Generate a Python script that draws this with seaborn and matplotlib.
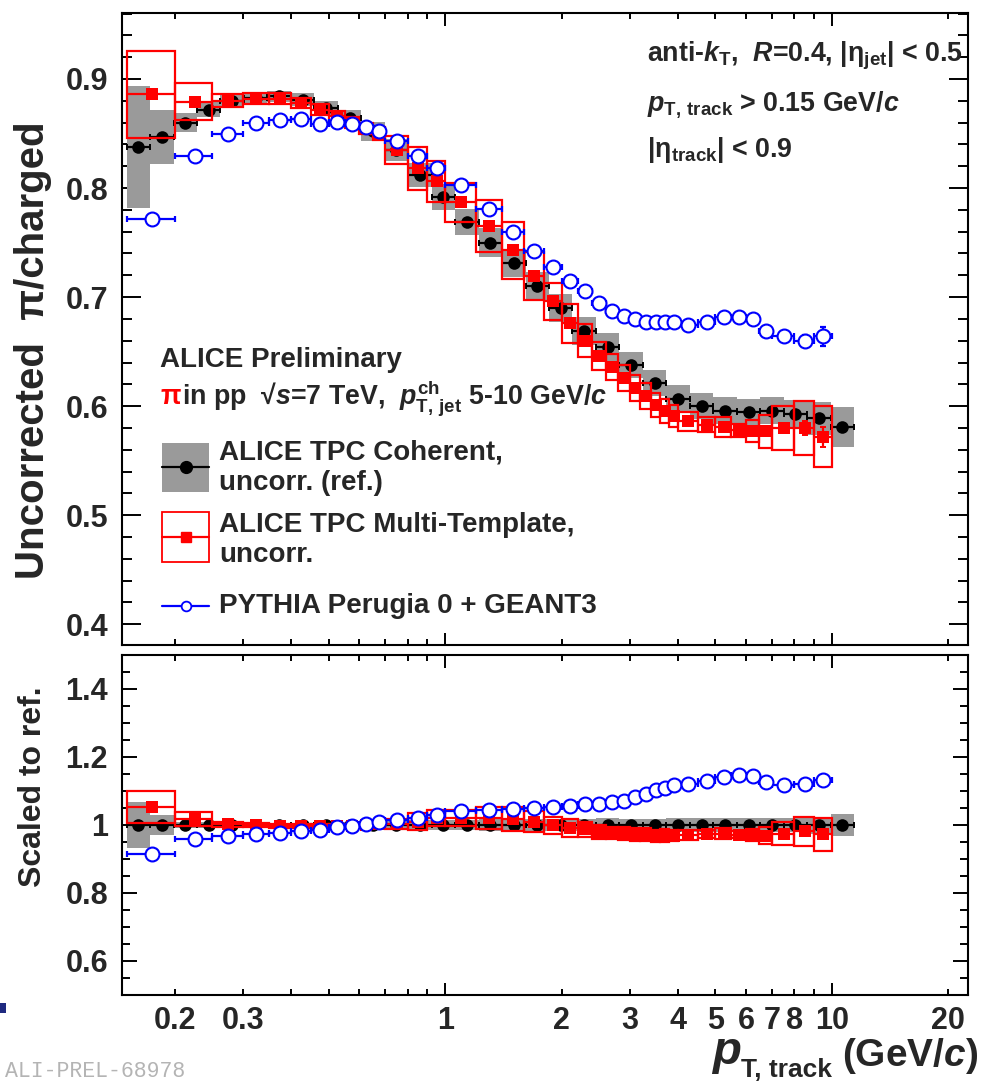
import numpy as np
import matplotlib
matplotlib.use("Agg")
import matplotlib.pyplot as plt
import seaborn as sns
from matplotlib.patches import Rectangle
from matplotlib.lines import Line2D
from matplotlib.ticker import FixedLocator, FuncFormatter, MultipleLocator

# ---------------- data ----------------
# ALICE TPC Coherent (reference), log-spaced bins
coh_edges = [0.150, 0.1725, 0.1984, 0.2281, 0.2624, 0.3017, 0.3470, 0.3990, 0.4589,
             0.5277, 0.6068, 0.6979, 0.8025, 0.9229, 1.0614, 1.2206, 1.4037, 1.6142,
             1.8563, 2.1348, 2.4550, 2.8232, 3.2467, 3.7337, 4.2938, 4.9378, 5.6785,
             6.5303, 7.5098, 8.6363, 9.9318, 11.4215]
coh_val = [0.838, 0.847, 0.860, 0.872, 0.880, 0.883, 0.884, 0.881, 0.873, 0.864, 0.852,
           0.835, 0.812, 0.792, 0.769, 0.750, 0.731, 0.710, 0.690, 0.669, 0.654, 0.638,
           0.621, 0.607, 0.600, 0.596, 0.595, 0.596, 0.593, 0.589, 0.581]
coh_sys = [0.056, 0.025, 0.009, 0.007, 0.005, 0.005, 0.005, 0.006, 0.007, 0.008, 0.009,
           0.010, 0.011, 0.012, 0.012, 0.013, 0.013, 0.013, 0.013, 0.013, 0.013, 0.012,
           0.012, 0.012, 0.012, 0.012, 0.012, 0.012, 0.013, 0.015, 0.018]
coh_stat = [0.002, 0.002, 0.001, 0.001, 0.001, 0.001, 0.001, 0.001, 0.001, 0.001, 0.001,
            0.001, 0.001, 0.001, 0.001, 0.001, 0.001, 0.001, 0.001, 0.001, 0.001, 0.001,
            0.001, 0.001, 0.001, 0.001, 0.001, 0.002, 0.002, 0.003, 0.003]
coh_ratio = [1.0] * 31
coh_ratio_sys = [0.067, 0.030, 0.010, 0.008, 0.006, 0.006, 0.006, 0.007, 0.008, 0.009,
                 0.011, 0.012, 0.014, 0.015, 0.016, 0.017, 0.018, 0.018, 0.019, 0.019,
                 0.020, 0.019, 0.019, 0.020, 0.020, 0.020, 0.020, 0.020, 0.022, 0.025, 0.031]

# ALICE TPC Multi-Template and PYTHIA share the same bins
mt_edges = [0.15, 0.2, 0.25, 0.3, 0.35, 0.4, 0.45, 0.5, 0.55, 0.6, 0.65, 0.7, 0.8, 0.9,
            1.0, 1.2, 1.4, 1.6, 1.8, 2.0, 2.2, 2.4, 2.6, 2.8, 3.0, 3.2, 3.4, 3.6, 3.8,
            4.0, 4.5, 5.0, 5.5, 6.0, 6.5, 7.0, 8.0, 9.0, 10.0]
mt_val = [0.886, 0.879, 0.880, 0.882, 0.882, 0.878, 0.872, 0.866, 0.860, 0.855, 0.850,
          0.835, 0.818, 0.806, 0.787, 0.765, 0.743, 0.719, 0.696, 0.676, 0.660, 0.646,
          0.636, 0.626, 0.617, 0.609, 0.601, 0.596, 0.591, 0.586, 0.583, 0.581, 0.578,
          0.577, 0.577, 0.580, 0.580, 0.572]
mt_sys = [0.040, 0.017, 0.006, 0.005, 0.005, 0.005, 0.005, 0.005, 0.005, 0.005, 0.006,
          0.013, 0.020, 0.019, 0.018, 0.024, 0.026, 0.022, 0.017, 0.018, 0.015, 0.013,
          0.012, 0.012, 0.012, 0.012, 0.011, 0.011, 0.010, 0.009, 0.007, 0.009, 0.006,
          0.010, 0.015, 0.020, 0.025, 0.028]
mt_stat = [0.002, 0.001, 0.001, 0.001, 0.001, 0.001, 0.001, 0.001, 0.001, 0.001, 0.001,
           0.001, 0.001, 0.001, 0.001, 0.001, 0.001, 0.001, 0.001, 0.001, 0.001, 0.001,
           0.001, 0.001, 0.001, 0.001, 0.001, 0.001, 0.001, 0.002, 0.002, 0.002, 0.003,
           0.003, 0.003, 0.004, 0.006, 0.009]
mt_ratio = [1.052, 1.018, 1.002, 0.999, 0.998, 0.997, 0.997, 0.997, 0.997, 1.000, 1.002,
            1.003, 1.010, 1.020, 1.020, 1.020, 1.018, 1.010, 0.999, 0.991, 0.987, 0.979,
            0.977, 0.974, 0.972, 0.971, 0.968, 0.969, 0.969, 0.970, 0.973, 0.975, 0.971,
            0.970, 0.968, 0.975, 0.981, 0.973]
mt_ratio_sys = [0.047, 0.020, 0.007, 0.006, 0.006, 0.006, 0.006, 0.006, 0.006, 0.006,
                0.007, 0.016, 0.025, 0.024, 0.023, 0.032, 0.036, 0.031, 0.024, 0.026,
                0.022, 0.020, 0.018, 0.019, 0.019, 0.019, 0.018, 0.018, 0.016, 0.015,
                0.012, 0.015, 0.010, 0.017, 0.025, 0.034, 0.042, 0.048]
mt_ratio_stat = [0.002, 0.001, 0.001, 0.001, 0.001, 0.001, 0.001, 0.001, 0.001, 0.001,
                 0.001, 0.001, 0.001, 0.001, 0.001, 0.001, 0.001, 0.001, 0.001, 0.001,
                 0.001, 0.001, 0.001, 0.001, 0.001, 0.001, 0.001, 0.001, 0.001, 0.003,
                 0.003, 0.003, 0.004, 0.004, 0.005, 0.007, 0.010, 0.015]

py_val = [0.772, 0.829, 0.850, 0.860, 0.862, 0.863, 0.859, 0.861, 0.859, 0.856, 0.852,
          0.843, 0.829, 0.818, 0.803, 0.781, 0.760, 0.742, 0.728, 0.715, 0.706, 0.695,
          0.687, 0.683, 0.680, 0.677, 0.677, 0.677, 0.677, 0.674, 0.677, 0.682, 0.682,
          0.680, 0.669, 0.664, 0.660, 0.664]
py_stat = [0.001, 0.001, 0.001, 0.001, 0.001, 0.001, 0.001, 0.001, 0.001, 0.001, 0.001,
           0.001, 0.001, 0.001, 0.001, 0.001, 0.001, 0.001, 0.001, 0.001, 0.001, 0.001,
           0.001, 0.001, 0.001, 0.001, 0.001, 0.001, 0.001, 0.002, 0.002, 0.002, 0.003,
           0.003, 0.004, 0.004, 0.005, 0.009]
py_ratio = [0.915, 0.958, 0.967, 0.974, 0.977, 0.982, 0.986, 0.993, 0.998, 1.003, 1.008,
            1.014, 1.022, 1.030, 1.040, 1.044, 1.047, 1.050, 1.053, 1.056, 1.062, 1.062,
            1.067, 1.071, 1.083, 1.090, 1.103, 1.110, 1.117, 1.120, 1.130, 1.140, 1.146,
            1.145, 1.127, 1.118, 1.120, 1.132]
py_ratio_stat = [0.001, 0.001, 0.001, 0.001, 0.001, 0.001, 0.001, 0.001, 0.001, 0.001,
                 0.001, 0.001, 0.001, 0.001, 0.001, 0.001, 0.001, 0.001, 0.001, 0.001,
                 0.001, 0.001, 0.001, 0.001, 0.001, 0.001, 0.001, 0.001, 0.001, 0.002,
                 0.002, 0.003, 0.004, 0.004, 0.005, 0.005, 0.007, 0.008]

xtick_values = [0.2, 0.3, 1, 2, 3, 4, 5, 6, 7, 8, 10, 20]
xtick_labels = ["0.2", "0.3", "1", "2", "3", "4", "5", "6", "7", "8", "10", "20"]
xminor_values = [0.2, 0.3, 0.4, 0.5, 0.6, 0.7, 0.8, 0.9, 2, 3, 4, 5, 6, 7, 8, 9, 20]
top_ytick_labels = ["0.4", "0.5", "0.6", "0.7", "0.8", "0.9"]
bot_ytick_labels = ["0.6", "0.8", "1", "1.2", "1.4"]

# ---------------- style ----------------
sns.set_theme(style="ticks")
plt.rcParams["font.family"] = ["Liberation Sans", "DejaVu Sans"]
plt.rcParams["font.weight"] = "bold"
plt.rcParams["mathtext.fontset"] = "custom"
plt.rcParams["mathtext.rm"] = "Liberation Sans:bold"
plt.rcParams["mathtext.bf"] = "Liberation Sans:bold"
plt.rcParams["mathtext.it"] = "Liberation Sans:italic:bold"
plt.rcParams["mathtext.sf"] = "Liberation Sans:bold"

GRAY = "#9a9a9a"
RED = "#ff0000"
BLUE = "#0000ff"
FS = 20
FSA = 19.3

W, H = 986, 1081
fig = plt.figure(figsize=(W / 100, H / 100), dpi=100)
fig.patch.set_facecolor("white")


def fbox(l, t, r, b):
    return [l / W, 1 - b / H, (r - l) / W, (b - t) / H]


def fx(px):
    return px / W


def fy(py):
    return 1 - py / H


ax1 = fig.add_axes(fbox(122, 13, 968, 645))
ax2 = fig.add_axes(fbox(122, 655, 968, 995))

ce = np.array(coh_edges)
c_lo, c_hi = ce[:-1], ce[1:]
c_x = np.sqrt(c_lo * c_hi)
me = np.array(mt_edges)
m_lo, m_hi = me[:-1], me[1:]
m_x = 0.5 * (m_lo + m_hi)


def draw_panel(ax, cy, cs, cst, my, ms, mst, py, pst):
    cy, cs, my, ms, py = map(np.asarray, (cy, cs, my, ms, py))
    ax.set_xscale("log")
    # gray systematic boxes (reference)
    ax.bar(c_lo, 2 * cs, width=c_hi - c_lo, bottom=cy - cs, align="edge",
           color=GRAY, linewidth=0, zorder=1)
    ax.errorbar(c_x, cy, xerr=[c_x - c_lo, c_hi - c_x], yerr=cst, fmt="none",
                ecolor="black", elinewidth=1.6, capsize=2.2, capthick=1.4, zorder=2)
    sns.scatterplot(x=c_x, y=cy, ax=ax, color="black", marker="o", s=82,
                    linewidth=0, legend=False, zorder=3)
    # red open systematic boxes
    ax.bar(m_lo, 2 * ms, width=m_hi - m_lo, bottom=my - ms, align="edge",
           facecolor="none", edgecolor=RED, linewidth=1.6, zorder=4)
    ax.errorbar(m_x, my, xerr=[m_x - m_lo, m_hi - m_x], yerr=mst, fmt="none",
                ecolor=RED, elinewidth=1.6, capsize=2.2, capthick=1.4, zorder=5)
    sns.scatterplot(x=m_x, y=my, ax=ax, color=RED, marker="s", s=70,
                    linewidth=0, legend=False, zorder=6)
    # PYTHIA
    ax.errorbar(m_x, py, xerr=[m_x - m_lo, m_hi - m_x], yerr=pst, fmt="none",
                ecolor=BLUE, elinewidth=1.6, capsize=2.2, capthick=1.6, zorder=7)
    sns.scatterplot(x=m_x, y=py, ax=ax, color="white", edgecolor=BLUE, marker="o",
                    s=100, linewidth=1.5, legend=False, zorder=8)


draw_panel(ax1, coh_val, coh_sys, coh_stat, mt_val, mt_sys, mt_stat, py_val, py_stat)
draw_panel(ax2, coh_ratio, coh_ratio_sys, coh_stat, mt_ratio, mt_ratio_sys,
           mt_ratio_stat, py_ratio, py_ratio_stat)

ax1.set_ylim(0.381, 0.9605)
ax2.set_ylim(0.5, 1.5)

label_map = dict(zip(xtick_values, xtick_labels))


def xfmt(v, pos):
    for k, lab in label_map.items():
        if abs(v - k) < 1e-6 * max(1, k):
            return lab
    return ""


for ax in (ax1, ax2):
    ax.set_xlim(0.146, 22.5)
    ax.xaxis.set_major_locator(FixedLocator([1, 10]))
    ax.xaxis.set_minor_locator(FixedLocator(xminor_values))
    ax.tick_params(which="both", direction="in", top=True, right=True,
                   width=1.4, color="black", labelsize=22)
    ax.tick_params(axis="x", which="major", length=9)
    ax.tick_params(axis="x", which="minor", length=4.5)
    for s in ax.spines.values():
        s.set_linewidth(1.5)
        s.set_color("black")
    ax.set_xlabel("")
    ax.set_ylabel("")
    ax.grid(False)

ax1.xaxis.set_major_formatter(FuncFormatter(lambda v, p: ""))
ax1.xaxis.set_minor_formatter(FuncFormatter(lambda v, p: ""))
ax2.xaxis.set_major_formatter(FuncFormatter(xfmt))
ax2.xaxis.set_minor_formatter(FuncFormatter(xfmt))
ax2.tick_params(axis="x", which="both", pad=8)

ax1.yaxis.set_major_locator(FixedLocator([0.4, 0.5, 0.6, 0.7, 0.8, 0.9]))
ax1.yaxis.set_minor_locator(MultipleLocator(0.02))
ax1.set_yticklabels(top_ytick_labels)
ax1.tick_params(axis="y", which="major", length=13.5, pad=10)
ax1.tick_params(axis="y", which="minor", length=7)

ax2.yaxis.set_major_locator(FixedLocator([0.6, 0.8, 1.0, 1.2, 1.4]))
ax2.yaxis.set_minor_locator(MultipleLocator(0.05))
ax2.set_yticklabels(bot_ytick_labels)
ax2.tick_params(axis="y", which="major", length=11, pad=10)
ax2.tick_params(axis="y", which="minor", length=5.5)

# ---------------- axis titles ----------------
fig.text(fx(33), fy(350), "Uncorrected  π/charged", rotation=90, ha="center",
         va="center", fontsize=29, fontweight="bold")
fig.text(fx(33), fy(787), "Scaled to ref.", rotation=90, ha="center",
         va="center", fontsize=23, fontweight="bold")

renderer = fig.canvas.get_renderer()
t_unit = fig.text(fx(978), fy(1066), r"(GeV/$c$)", ha="right", va="baseline",
                  fontsize=28, fontweight="bold")
bb = t_unit.get_window_extent(renderer)
t_sub = fig.text((bb.x0 - 10) / W, fy(1077), "T, track", ha="right", va="baseline",
                 fontsize=19, fontweight="bold")
bb2 = t_sub.get_window_extent(renderer)
fig.text((bb2.x0 + 1) / W, fy(1064), r"$p$", ha="right", va="baseline",
         fontsize=34, fontweight="bold")

# ---------------- annotations ----------------
fig.text(fx(647), fy(62), r"anti-$k_{\rm T}$,  $R$=0.4, |η$_{\rm jet}$| < 0.5",
         fontsize=FSA, fontweight="bold", va="baseline")
fig.text(fx(647), fy(110), r"$p_{\rm T,\,track}$ > 0.15 GeV/$c$",
         fontsize=FSA, fontweight="bold", va="baseline")
fig.text(fx(647), fy(157), r"|η$_{\rm track}$| < 0.9",
         fontsize=FSA, fontweight="bold", va="baseline")

fig.text(fx(160), fy(367), "ALICE Preliminary", fontsize=FS, fontweight="bold",
         va="baseline")
fig.text(fx(160), fy(404), "π", fontsize=FSA, fontweight="bold", color=RED,
         va="baseline")
fig.text(fx(182), fy(404),
         r"in pp  √$s$=7 TeV,  $p_{\rm T,\,jet}^{\rm ch}$ 5-10 GeV/$c$",
         fontsize=FSA, fontweight="bold", va="baseline")

# manual legend
fig.add_artist(Rectangle((fx(162), fy(492)), fx(209) - fx(162), fy(443) - fy(492),
                         transform=fig.transFigure, facecolor=GRAY, edgecolor="none"))
fig.add_artist(Line2D([fx(162), fx(209)], [fy(467), fy(467)], transform=fig.transFigure,
                      color="black", lw=1.6))
fig.add_artist(Line2D([fx(185.5)], [fy(467)], transform=fig.transFigure, color="black",
                      marker="o", markersize=8.5, lw=0))
fig.text(fx(219), fy(459), "ALICE TPC Coherent,", fontsize=FS, fontweight="bold",
         va="baseline")
fig.text(fx(219), fy(490), "uncorr. (ref.)", fontsize=FS, fontweight="bold",
         va="baseline")

fig.add_artist(Rectangle((fx(162), fy(562)), fx(209) - fx(162), fy(512) - fy(562),
                         transform=fig.transFigure, facecolor="none", edgecolor=RED,
                         lw=1.3))
fig.add_artist(Line2D([fx(162), fx(209)], [fy(537), fy(537)], transform=fig.transFigure,
                      color=RED, lw=1.6))
fig.add_artist(Line2D([fx(185.5)], [fy(537)], transform=fig.transFigure, color=RED,
                      marker="s", markersize=7.5, lw=0))
fig.text(fx(219), fy(532), "ALICE TPC Multi-Template,", fontsize=FS, fontweight="bold",
         va="baseline")
fig.text(fx(219), fy(562), "uncorr.", fontsize=FS, fontweight="bold", va="baseline")

fig.add_artist(Line2D([fx(162), fx(209)], [fy(606), fy(606)], transform=fig.transFigure,
                      color=BLUE, lw=1.6))
fig.add_artist(Line2D([fx(185.5)], [fy(606)], transform=fig.transFigure, color=BLUE,
                      marker="o", markersize=7, markerfacecolor="white",
                      markeredgewidth=1.3, lw=0))
fig.text(fx(219), fy(613), "PYTHIA Perugia 0 + GEANT3", fontsize=FS,
         fontweight="bold", va="baseline")

# footer
fig.text(fx(5), fy(1077), "ALI-PREL-68978", fontsize=15.5, color="#b4b4b4",
         family=["Liberation Mono", "DejaVu Sans Mono"], fontweight="normal",
         va="baseline")
fig.add_artist(Rectangle((0, fy(1013)), fx(6), fy(1003) - fy(1013),
                         transform=fig.transFigure, facecolor="#1f2a80",
                         edgecolor="none"))

fig.savefig("out.png", dpi=100, facecolor="white")
